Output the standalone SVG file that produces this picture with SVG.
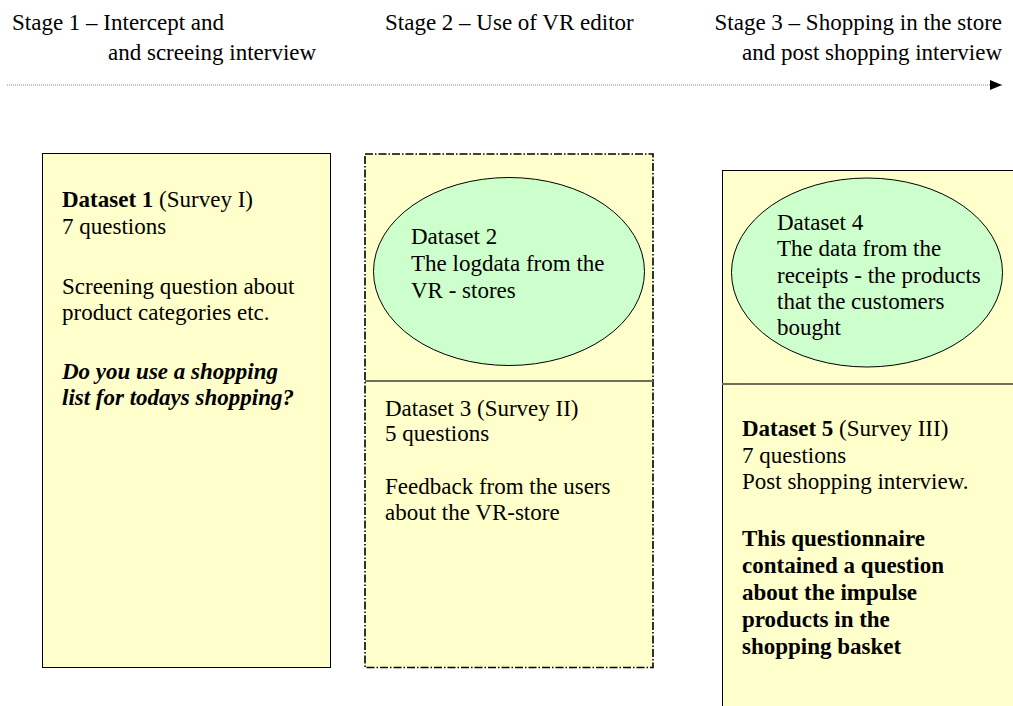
<svg xmlns="http://www.w3.org/2000/svg" width="1013" height="706" viewBox="0 0 1013 706">
<defs>
<style>
text{font-family:"Liberation Serif","Times New Roman",serif;font-size:23px;fill:#000}
.b{font-weight:bold}
.bi{font-weight:bold;font-style:italic}
.box{fill:#FFFFCC;stroke:#000;stroke-width:1}
.dash{fill:#FFFFCC;stroke:#000;stroke-width:1.6;stroke-dasharray:8 2 1.5 2}
.ell{fill:#CCFFCC;stroke:#000;stroke-width:1}
.div{stroke:#6E6E5E;stroke-width:2}
</style>
<marker id="arr" viewBox="0 0 12 10" refX="12" refY="5" markerWidth="12" markerHeight="10" markerUnits="userSpaceOnUse" orient="auto">
<path d="M0,0 L12,5 L0,10 Z" fill="#000"/>
</marker>
</defs>
<rect width="1013" height="706" fill="#fff"/>
<g id="headers">
<text x="12" y="30">Stage 1 – Intercept and</text>
<text x="108" y="60">and screeing interview</text>
<text x="385" y="30">Stage 2 – Use of VR editor</text>
<text x="1002" y="30" text-anchor="end">Stage 3 – Shopping in the store</text>
<text x="1002" y="60" text-anchor="end">and post shopping interview</text>
</g>
<g id="connectors">
<line x1="7" y1="85" x2="1002" y2="85" stroke="#888" stroke-width="1" stroke-dasharray="1 1" marker-end="url(#arr)"/>
</g>
<g id="stage1">
<rect class="box" x="42.5" y="153.5" width="288" height="514"/>
<text x="62" y="207"><tspan class="b">Dataset 1</tspan> (Survey I)</text>
<text x="62" y="234">7 questions</text>
<text x="62" y="294">Screening question about</text>
<text x="62" y="320">product categories etc.</text>
<text class="bi" x="62" y="379">Do you use a shopping</text>
<text class="bi" x="62" y="405">list for todays shopping?</text>
</g>
<g id="stage2">
<rect class="dash" x="365" y="154" width="288" height="513.5"/>
<line class="div" x1="365" y1="381" x2="653" y2="381"/>
<g id="dataset2">
<ellipse class="ell" cx="509" cy="271.5" rx="135.5" ry="94"/>
<text x="411" y="244">Dataset 2</text>
<text x="411" y="271">The logdata from the</text>
<text x="411" y="298">VR - stores</text>
</g>
<g id="dataset3">
<text x="385" y="416">Dataset 3 (Survey II)</text>
<text x="385" y="441">5 questions</text>
<text x="385" y="494">Feedback from the users</text>
<text x="385" y="520">about the VR-store</text>
</g>
</g>
<g id="stage3">
<rect class="box" x="722.5" y="170.5" width="300" height="560"/>
<line class="div" x1="722" y1="384" x2="1013" y2="384"/>
<g id="dataset4">
<ellipse class="ell" cx="867" cy="272.5" rx="135.5" ry="94.5"/>
<text x="777" y="230">Dataset 4</text>
<text x="777" y="256">The data from the</text>
<text x="777" y="283">receipts - the products</text>
<text x="777" y="309">that the customers</text>
<text x="777" y="335">bought</text>
</g>
<g id="dataset5">
<text x="742" y="436"><tspan class="b">Dataset 5</tspan> (Survey III)</text>
<text x="742" y="463">7 questions</text>
<text x="742" y="489">Post shopping interview.</text>
<text class="b" x="742" y="546">This questionnaire</text>
<text class="b" x="742" y="573">contained a question</text>
<text class="b" x="742" y="600">about the impulse</text>
<text class="b" x="742" y="627">products in the</text>
<text class="b" x="742" y="654">shopping basket</text>
</g>
</g>
</svg>
